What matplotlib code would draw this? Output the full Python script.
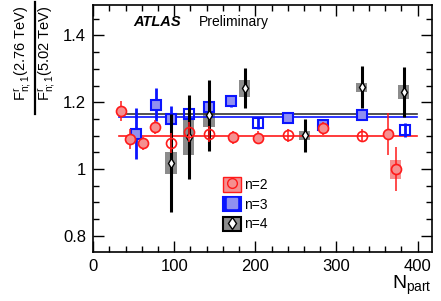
import numpy as np
import matplotlib
matplotlib.use('Agg')
import matplotlib.pyplot as plt
from matplotlib.patches import Rectangle
from matplotlib.lines import Line2D
from matplotlib.ticker import MultipleLocator

plt.rcParams['font.family'] = ['Liberation Sans', 'DejaVu Sans']
plt.rcParams['mathtext.fontset'] = 'custom'
plt.rcParams['mathtext.rm'] = 'Liberation Sans'
plt.rcParams['mathtext.it'] = 'Liberation Sans:italic'
plt.rcParams['mathtext.bf'] = 'Liberation Sans:bold'

# n=2
npart_2 = [35, 46, 61, 76, 96, 118, 143, 172, 203, 240, 283, 331, 363, 373]
ratio_2 = [1.174, 1.089, 1.077, 1.126, 1.077, 1.111, 1.105, 1.095, 1.094, 1.101, 1.122, 1.100, 1.105, 0.999]
err_2 = [0.03, 0.03, 0.02, 0.02, 0.03, 0.03, 0.025, 0.02, 0.02, 0.02, 0.02, 0.02, 0.062, 0.066]
sys_2 = [0, 0, 0, 0, 0, 0, 0, 0, 0, 0, 0, 0, 0, 0.028]
filled_2 = [1, 1, 1, 1, 0, 0, 0, 1, 1, 0, 1, 0, 1, 1]
fit_2 = 1.100

# n=3
npart_3 = [53, 77, 96, 118, 143, 170, 203, 240, 283, 331, 384]
ratio_3 = [1.106, 1.193, 1.150, 1.165, 1.186, 1.205, 1.138, 1.153, 1.133, 1.162, 1.117]
err_3 = [0.077, 0.05, 0.038, 0.03, 0.022, 0.018, 0.018, 0.015, 0.012, 0.015, 0.02]
filled_3 = [1, 1, 1, 0, 1, 1, 0, 1, 1, 1, 0]
fit_3 = 1.155

# n=4
npart_4 = [96, 118, 143, 187, 261, 331, 383]
ratio_4 = [1.019, 1.097, 1.161, 1.242, 1.101, 1.245, 1.231]
err_4 = [0.147, 0.126, 0.107, 0.06, 0.049, 0.063, 0.076]
sys_4 = [0.033, 0.054, 0.035, 0.025, 0.014, 0.014, 0.022]
fit_4 = 1.166

fit_range = [32, 399]

rojo, rojo_c = '#ff1a1a', '#f59090'
azul, azul_c = '#0a14ff', '#9090f0'
negro, gris = '#000000', '#8c8c8c'

fig = plt.figure(figsize=(4.41, 3.01), dpi=100)
ax = fig.add_axes([0.211, 0.163, 0.769, 0.821])

# cajas sistematicas
for x, y, s in zip(npart_4, ratio_4, sys_4):
    ax.add_patch(Rectangle((x - 7, y - s), 14, 2 * s, facecolor=gris, edgecolor='none', zorder=1))
for x, y, s in zip(npart_2, ratio_2, sys_2):
    if s > 0:
        ax.add_patch(Rectangle((x - 6.8, y - s), 13.6, 2 * s, facecolor=rojo_c, edgecolor='none', zorder=1))

# ajustes
ax.plot(fit_range, [fit_4, fit_4], color='#333333', lw=1.2, zorder=2)
ax.plot(fit_range, [fit_3, fit_3], color=azul, lw=1.2, zorder=2)
ax.plot(fit_range, [fit_2, fit_2], color=rojo, lw=1.2, zorder=2)

# n=3
ax.errorbar(npart_3, ratio_3, yerr=err_3, fmt='none', ecolor=azul, elinewidth=2.0, zorder=3)
for x, y, f in zip(npart_3, ratio_3, filled_3):
    ax.plot(x, y, marker='s', ms=7, mec=azul, mew=1.5, mfc=azul_c if f else 'none', zorder=4)

# n=4
ax.errorbar(npart_4, ratio_4, yerr=err_4, fmt='none', ecolor=negro, elinewidth=2.2, zorder=5)
ax.plot(npart_4, ratio_4, 'd', ms=5.5, mec=negro, mfc='white', mew=1.0, zorder=6, ls='none')

# n=2
ax.errorbar(npart_2, ratio_2, yerr=err_2, fmt='none', ecolor=rojo, elinewidth=1.1, zorder=7)
for x, y, f in zip(npart_2, ratio_2, filled_2):
    ax.plot(x, y, marker='o', ms=7.2, mec=rojo, mew=1.2, mfc=rojo_c if f else 'none', zorder=8)

ax.set_xlim(0, 418)
ax.set_ylim(0.751, 1.492)
ax.xaxis.set_major_locator(MultipleLocator(100))
ax.xaxis.set_minor_locator(MultipleLocator(20))
ax.yaxis.set_major_locator(MultipleLocator(0.2))
ax.yaxis.set_minor_locator(MultipleLocator(0.05))
ax.yaxis.set_major_formatter(plt.FuncFormatter(lambda v, p: f'{v:g}'))
ax.tick_params(which='both', direction='in', top=True, right=True, labelsize=12, width=1.0)
ax.tick_params(which='major', length=8, pad=5)
ax.tick_params(which='minor', length=4.5)
for sp in ax.spines.values():
    sp.set_linewidth(1.2)

ax.set_xlabel(r'$\mathrm{N}_{\mathrm{part}}$', fontsize=14)
ax.xaxis.set_label_coords(1.0, -0.09)
ax.xaxis.label.set_ha('right')

# etiqueta y como fraccion
fig.text(0.052, 0.822, r'$\mathrm{F}^{\mathrm{r}}_{\mathrm{n;1}}$(2.76 TeV)', rotation=90,
         ha='center', va='center', fontsize=10.5)
fig.text(0.108, 0.822, r'$\mathrm{F}^{\mathrm{r}}_{\mathrm{n;1}}$(5.02 TeV)', rotation=90,
         ha='center', va='center', fontsize=10.5)
fig.add_artist(Line2D([0.079, 0.079], [0.620, 0.993], transform=fig.transFigure, color='black', lw=1.6))

ax.text(0.118, 0.915, 'ATLAS', transform=ax.transAxes, fontsize=10.5, fontweight='bold', fontstyle='italic')
ax.text(0.313, 0.915, 'Preliminary', transform=ax.transAxes, fontsize=10)

handles = [
    (Rectangle((0, 0), 1, 1, facecolor=rojo_c, edgecolor=rojo, lw=1.0),
     Line2D([], [], marker='o', ls='none', ms=7, mec=rojo, mfc=rojo_c, mew=1.0)),
    (Rectangle((0, 0), 1, 1, facecolor=azul, edgecolor=azul, lw=1.5),
     Line2D([], [], marker='s', ls='none', ms=7, mec=azul_c, mfc=azul_c, mew=1.0)),
    (Rectangle((0, 0), 1, 1, facecolor=gris, edgecolor=negro, lw=1.5),
     Line2D([], [], marker='d', ls='none', ms=6, mec=negro, mfc='white', mew=1.0)),
]
ax.legend(handles, ['n=2', 'n=3', 'n=4'], loc='upper left', bbox_to_anchor=(0.383, 0.302),
          frameon=False, fontsize=10, handlelength=1.3, handleheight=1.2,
          handletextpad=0.2, labelspacing=0.35, borderpad=0, borderaxespad=0)

fig.savefig('out.png', dpi=100)
